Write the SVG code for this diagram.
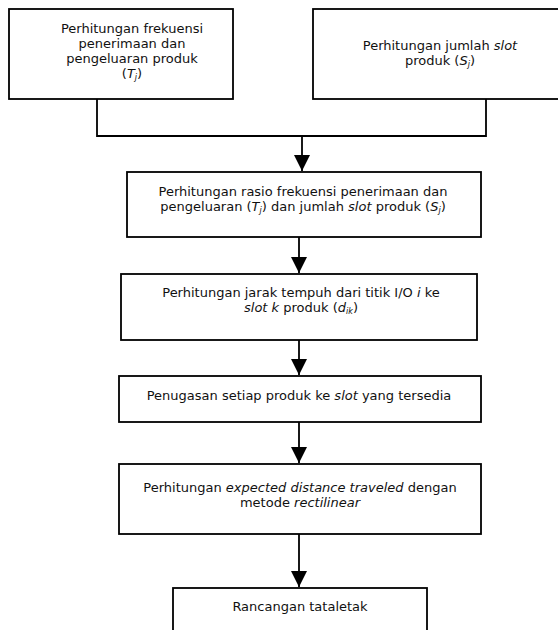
<svg xmlns="http://www.w3.org/2000/svg" width="558" height="630" viewBox="0 0 558 630">
<defs>
<style>
.box{fill:#fff;stroke:#000;stroke-width:1.8}
.ln{fill:none;stroke:#000;stroke-width:1.8}
text{font-family:"DejaVu Sans","Verdana",sans-serif;font-size:13px;fill:#111;text-anchor:middle}
.i{font-style:italic}
.s{font-style:italic;font-size:8px}
</style>
<marker id="ah" markerUnits="userSpaceOnUse" markerWidth="16" markerHeight="17" refX="16" refY="8" orient="auto">
<path d="M0,0 L16,8 L0,16 Z" fill="#000"/>
</marker>
</defs>
<rect width="558" height="630" fill="#fff"/>
<g id="connectors">
<path class="ln" d="M97,99 V136 H486 V99"/>
<path class="ln" d="M302,136 V171" marker-end="url(#ah)"/>
<path class="ln" d="M299,237 V273" marker-end="url(#ah)"/>
<path class="ln" d="M299,340 V375" marker-end="url(#ah)"/>
<path class="ln" d="M299,422 V463" marker-end="url(#ah)"/>
<path class="ln" d="M299,534 V587" marker-end="url(#ah)"/>
</g>
<g id="n1">
<rect class="box" x="9" y="9" width="224" height="90"/>
<text x="132" y="33">Perhitungan frekuensi</text>
<text x="132" y="48">penerimaan dan</text>
<text x="132" y="63">pengeluaran produk</text>
<text x="132" y="78">(<tspan class="i">T</tspan><tspan class="s" dy="2">j</tspan><tspan dy="-2">)</tspan></text>
</g>
<g id="n2">
<rect class="box" x="313" y="9" width="260" height="90"/>
<text x="440" y="50">Perhitungan jumlah <tspan class="i">slot</tspan></text>
<text x="440" y="65">produk (<tspan class="i">S</tspan><tspan class="s" dy="2">j</tspan><tspan dy="-2">)</tspan></text>
</g>
<g id="n3">
<rect class="box" x="127" y="172" width="354" height="65"/>
<text x="303" y="196">Perhitungan rasio frekuensi penerimaan dan</text>
<text x="303" y="211">pengeluaran (<tspan class="i">T</tspan><tspan class="s" dy="2">j</tspan><tspan dy="-2">) dan jumlah </tspan><tspan class="i">slot</tspan> produk (<tspan class="i">S</tspan><tspan class="s" dy="2">j</tspan><tspan dy="-2">)</tspan></text>
</g>
<g id="n4">
<rect class="box" x="121" y="274" width="356" height="66"/>
<text x="301" y="297">Perhitungan jarak tempuh dari titik I/O <tspan class="i">i</tspan> ke</text>
<text x="301" y="312"><tspan class="i">slot k</tspan> produk (<tspan class="i">d</tspan><tspan class="s" dy="2">ik</tspan><tspan dy="-2">)</tspan></text>
</g>
<g id="n5">
<rect class="box" x="119" y="376" width="362" height="46"/>
<text x="299" y="400">Penugasan setiap produk ke <tspan class="i">slot</tspan> yang tersedia</text>
</g>
<g id="n6">
<rect class="box" x="119" y="464" width="362" height="70"/>
<text x="300" y="492">Perhitungan <tspan class="i">expected distance traveled</tspan> dengan</text>
<text x="300" y="507">metode <tspan class="i">rectilinear</tspan></text>
</g>
<g id="n7">
<rect class="box" x="173" y="588" width="254" height="60"/>
<text x="300" y="611">Rancangan tataletak</text>
</g>
</svg>
